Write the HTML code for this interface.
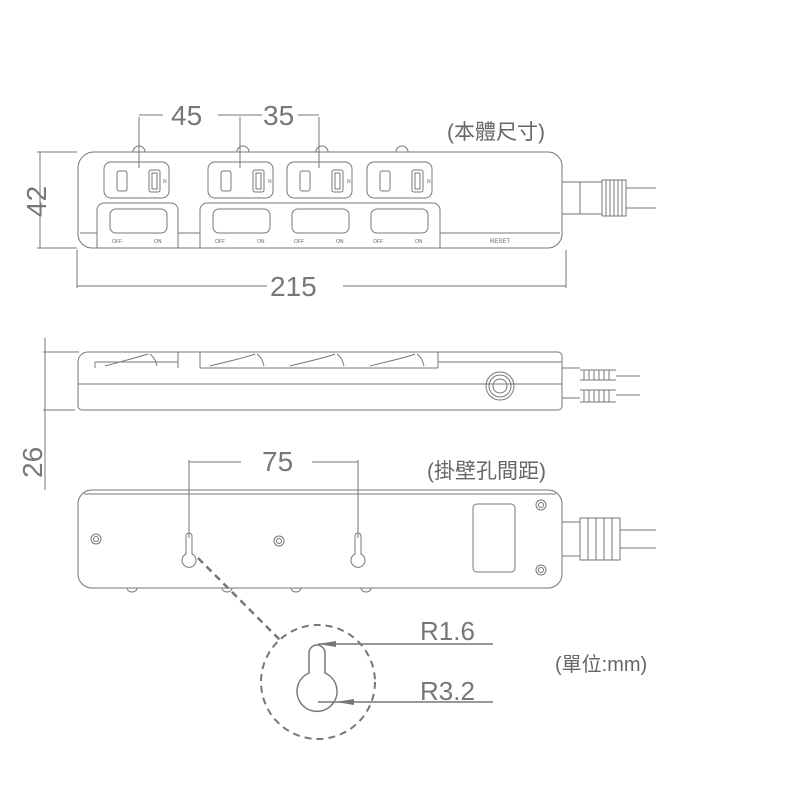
<!DOCTYPE html>
<html><head><meta charset="utf-8"><style>
html,body{margin:0;padding:0;background:#fff}
svg{display:block}
text{font-family:"Liberation Sans","Noto Sans CJK TC",sans-serif;fill:#666}
</style></head><body>
<svg width="801" height="801" viewBox="0 0 801 801" xmlns="http://www.w3.org/2000/svg">
<g fill="none" stroke="#777" stroke-width="1">
<path d="M139 117V168M240 117V168M319 117V168M139 115h24M218 115h44M298 115h21"/>
<path d="M37 152h40M37 248h40M40 152v96"/>
<path d="M77 250v38M566 250v38M77 286h190M343 286h223"/>
<path d="M95 152H548a14 14 0 0 1 14 14V234a14 14 0 0 1-14 14H92a14 14 0 0 1-14-14V168a16 16 0 0 1 17-16z"/>
<path d="M80 233H97M178 233H200M440 233H560"/>
<g id="o">
<rect x="104" y="162" width="65" height="36" rx="7"/>
<rect x="117" y="171" width="10" height="20" rx="2"/>
<rect x="149" y="170" width="11" height="22" rx="2"/>
<rect x="152" y="173" width="5" height="16"/>
<path d="M133 152a6 6 0 0 1 12 0"/>
</g>
<use href="#o" x="104"/><use href="#o" x="183"/><use href="#o" x="263"/>
<path d="M97 248V210a7 7 0 0 1 7-7H171a7 7 0 0 1 7 7V248"/>
<path d="M200 248V210a7 7 0 0 1 7-7H433a7 7 0 0 1 7 7V248"/>
<rect x="110" y="209" width="57" height="24" rx="6"/>
<rect x="213" y="209" width="57" height="24" rx="6"/>
<rect x="292" y="209" width="57" height="24" rx="6"/>
<rect x="371" y="209" width="57" height="24" rx="6"/>
<path d="M562 182h40M562 214h40M580 182v32M602 180v36M602 180h24v36h-24M626 188h30M626 208h30"/>
<path d="M606 180v36M610 180v36M614 180v36M618 180v36M622 180v36"/>
</g>
<g font-size="5">
<text x="112" y="243">OFF</text><text x="154" y="243">ON</text>
<text x="215" y="243">OFF</text><text x="257" y="243">ON</text>
<text x="294" y="243">OFF</text><text x="336" y="243">ON</text>
<text x="373" y="243">OFF</text><text x="415" y="243">ON</text>
<text x="490" y="243" font-size="6">RESET</text>
<text x="163" y="183">N</text><text x="268" y="183">N</text><text x="347" y="183">N</text><text x="427" y="183">N</text>
</g>
<g font-size="28">
<text x="171" y="125" style="fill:#777">45</text>
<text x="263" y="125" style="fill:#777">35</text>
<text x="270" y="296" style="fill:#777">215</text>
<text transform="translate(46,217) rotate(-90)" style="fill:#777">42</text>
<text transform="translate(42,478) rotate(-90)" style="fill:#777">26</text>
<text x="262" y="471" style="fill:#777">75</text>
<text x="420" y="640" style="fill:#777" font-size="26">R1.6</text>
<text x="420" y="700" style="fill:#777" font-size="26">R3.2</text>
</g>
<text x="447" y="139" font-size="21">(本體尺寸)</text>
<text x="427" y="478" font-size="21">(掛壁孔間距)</text>
<text x="555" y="671" font-size="20">(單位:mm)</text>
<g fill="none" stroke="#777" stroke-width="1">
<path d="M45 338V490M43 352h36M43 410h32"/>
<path d="M88 352H558a4 4 0 0 1 4 4V406a4 4 0 0 1-4 4H82a4 4 0 0 1-4-4V362a10 10 0 0 1 10-10z"/>
<path d="M78 384H562"/>
<path d="M95 362H178M95 362V368M178 352V368M200 352V368M200 368H438M438 352V368M438 362H562"/>
<path d="M105 366c15-4 30-8 43-12M150 354c5 4 6 8 7 12M210 366c15-4 35-8 45-12M257 354c5 4 6 8 7 12M290 366c15-4 35-8 45-12M337 354c5 4 6 8 7 12M370 366c15-4 35-8 45-12M417 354c5 4 6 8 7 12"/>
<circle cx="500" cy="386" r="14"/><circle cx="500" cy="386" r="11"/><circle cx="500" cy="386" r="7"/>
<path d="M562 368h18M562 398h18M580 370h36M580 380h36M580 390h36M580 402h36M616 376h24M616 395h24"/>
<path d="M584 370v10M589 370v10M594 370v10M599 370v10M604 370v10M609 370v10M584 390v12M589 390v12M594 390v12M599 390v12M604 390v12M609 390v12"/>
<path d="M189 460V538M358 460V538M189 462h52M312 462h46"/>
<path d="M92 490H548a14 14 0 0 1 14 14V574a14 14 0 0 1-14 14H92a14 14 0 0 1-14-14V504a14 14 0 0 1 14-14z"/>
<path d="M84 494H556"/>
<circle cx="96" cy="539" r="5"/><circle cx="96" cy="539" r="2.5"/>
<circle cx="279" cy="541" r="5"/><circle cx="279" cy="541" r="2.5"/>
<circle cx="541" cy="505" r="5"/><circle cx="541" cy="505" r="2.5"/>
<circle cx="541" cy="570" r="5"/><circle cx="541" cy="570" r="2.5"/>
<path d="M186 554V536a3 3 0 0 1 6 0V554a7 7 0 1 1-6 0z"/>
<path d="M355 554V536a3 3 0 0 1 6 0V554a7 7 0 1 1-6 0z"/>
<rect x="473" y="504" width="42" height="68" rx="4"/>
<path d="M127 588a5 4 0 0 0 10 0M222 588a5 4 0 0 0 10 0M291 588a5 4 0 0 0 10 0M361 588a5 4 0 0 0 10 0"/>
<path d="M562 522h18M562 556h18M580 518v42h40v-42zM620 530h36M620 548h36M588 518v42M596 518v42M604 518v42M612 518v42"/>
<path d="M198 558L280 640" stroke-dasharray="7 5" stroke-width="2.5" stroke="#777"/>
<circle cx="318" cy="682" r="57" stroke-dasharray="7 5" stroke-width="2"/>
<path d="M309 673V653a8 8 0 0 1 16 0V673a20 20 0 1 1-16 0z" stroke-width="1.5"/>
<path d="M318 644H493M318 702H493" stroke-width="1.5"/>
</g>
<path d="M318 644l18-3v6z M336 702l18-3v6z" fill="#777"/>
</svg>
</body></html>
